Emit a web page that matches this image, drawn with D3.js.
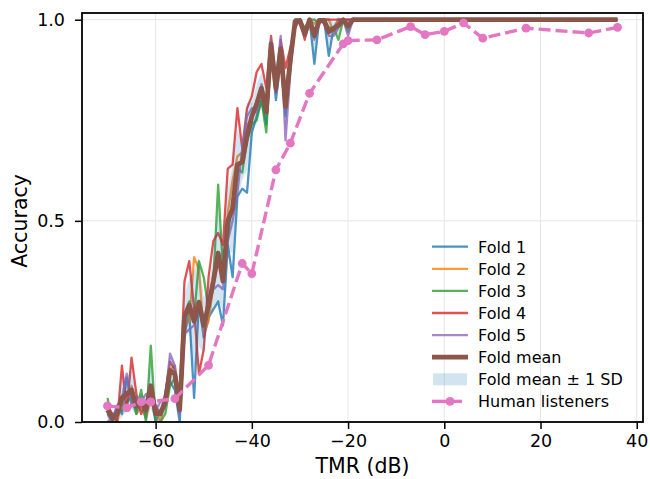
<!DOCTYPE html>
<html>
<head>
<meta charset="utf-8">
<script src="https://cdn.jsdelivr.net/npm/d3@7"></script>
<style>
body { margin: 0; background: #fff; }
svg { display: block; font-family: "DejaVu Sans", sans-serif; }
</style>
</head>
<body>
<div id="chart"></div>
<script>
// TMR grid (dB): 1 dB steps through the slope, sparse on the plateau
const tmr = [-70,-69,-68,-67,-66,-65,-64,-63,-62,-61,
             -60,-59,-58,-57,-56,-55,-54,-53,-52,-51,
             -50,-49,-48,-47,-46,-45,-44,-43,-42,-41,
             -40,-39,-38,-37,-36,-35,-34,-33,-32,-31,
             -30,-29,-28,-27,-26,-25,-24,-23,-22,-21,
             -20,-19,-14,-7,-4,0,4,8,17,30,36];

const fold1 = [0.02,0.00,0.04,0.02,0.11,0.05,0.03,0.06,0.02,0.07,
               0.00,0.03,0.04,0.10,0.08,0.00,0.22,0.27,0.06,0.30,
               0.21,0.26,0.28,0.30,0.24,0.44,0.36,0.56,0.58,0.57,
               0.72,0.76,0.80,0.74,0.93,0.80,0.90,0.76,0.88,1.00,
               1.00,0.96,1.00,0.89,1.00,1.00,0.91,0.98,1.00,1.00,
               1.00,1.00,1,1,1,1,1,1,1,1,1];
const fold2 = [0.03,0.02,0.00,0.05,0.04,0.09,0.02,0.04,0.01,0.06,
               0.03,0.00,0.06,0.13,0.14,0.04,0.24,0.25,0.41,0.38,
               0.22,0.25,0.34,0.40,0.36,0.52,0.60,0.66,0.67,0.74,
               0.75,0.80,0.82,0.78,0.94,0.83,0.92,0.80,0.92,1.00,
               1.00,0.97,1.00,0.99,1.00,1.00,1.00,0.97,1.00,1.00,
               0.99,1.00,1,1,1,1,1,1,1,1,1];
const fold3 = [0.06,0.00,0.02,0.03,0.05,0.06,0.02,0.08,0.00,0.19,
               0.00,0.00,0.02,0.09,0.11,0.03,0.27,0.30,0.26,0.40,
               0.36,0.28,0.35,0.59,0.38,0.46,0.55,0.63,0.62,0.70,
               0.74,0.75,0.80,0.72,0.92,0.85,0.91,0.78,0.90,1.00,
               1.00,0.98,1.00,1.00,0.99,1.00,0.98,0.98,0.95,1.00,
               0.97,1.00,1,1,1,1,1,1,1,1,1];
const fold4 = [0.04,0.02,0.00,0.14,0.03,0.16,0.07,0.02,0.05,0.08,
               0.04,0.02,0.07,0.15,0.13,0.06,0.35,0.40,0.28,0.12,
               0.18,0.36,0.45,0.47,0.44,0.63,0.64,0.78,0.68,0.78,
               0.81,0.87,0.89,0.83,0.96,0.82,0.95,0.88,0.93,0.98,
               1.00,0.95,1.00,0.97,1.00,1.00,1.00,1.00,1.00,1.00,
               1.00,1.00,1,1,1,1,1,1,1,1,1];
const fold5 = [0.00,0.01,0.04,0.06,0.12,0.04,0.06,0.05,0.07,0.05,
               0.03,0.05,0.06,0.17,0.14,0.02,0.22,0.23,0.24,0.29,
               0.23,0.30,0.33,0.34,0.33,0.45,0.50,0.57,0.68,0.76,
               0.78,0.77,0.84,0.78,0.95,0.85,0.96,0.70,0.87,1.00,
               0.99,0.96,1.00,0.95,1.00,0.99,0.96,0.96,0.98,1.00,
               0.96,1.00,1,1,1,1,1,1,1,1,1];

const humanTmr = [-70,-66,-63,-61,-56,-49,-42,-40,-35,-32,-28,-21,-20,-14,-7,-4,0,4,8,17,30,36];
const humanAcc = [0.04,0.035,0.05,0.05,0.058,0.141,0.394,0.369,0.627,0.693,0.817,0.94,0.948,0.95,0.983,0.963,0.971,0.992,0.954,0.979,0.967,0.981];

const xTicks = [-60, -40, -20, 0, 20, 40];
const yTicks = [0, 0.5, 1.0];

const folds = [fold1, fold2, fold3, fold4, fold5];
const foldNames = ['Fold 1', 'Fold 2', 'Fold 3', 'Fold 4', 'Fold 5'];
const foldColors = ['#1f77b4', '#ff7f0e', '#2ca02c', '#d62728', '#9467bd'];

const W = 650, H = 479;
const margin = {left: 82, right: 7, top: 13, bottom: 57};

const x = d3.scaleLinear().domain([-75.3, 41.3]).range([margin.left, W - margin.right]);
const y = d3.scaleLinear().domain([0, 1.0167]).range([H - margin.bottom, margin.top]);

const svg = d3.select('#chart').append('svg').attr('width', W).attr('height', H);

svg.append('defs').append('clipPath').attr('id', 'clip')
    .append('rect')
    .attr('x', margin.left).attr('y', margin.top)
    .attr('width', W - margin.left - margin.right)
    .attr('height', H - margin.top - margin.bottom);

// grid
svg.append('g').selectAll('line.gx')
    .data(xTicks).enter().append('line')
    .attr('x1', d => x(d)).attr('x2', d => x(d))
    .attr('y1', margin.top).attr('y2', H - margin.bottom)
    .attr('stroke', '#e6e6e6').attr('stroke-width', 1);
svg.append('g').selectAll('line.gy')
    .data(yTicks).enter().append('line')
    .attr('x1', margin.left).attr('x2', W - margin.right)
    .attr('y1', d => y(d)).attr('y2', d => y(d))
    .attr('stroke', '#e6e6e6').attr('stroke-width', 1);

const plot = svg.append('g').attr('clip-path', 'url(#clip)');

const line = d3.line().x((d, i) => x(tmr[i])).y(d => y(d));

folds.forEach((f, k) => {
    plot.append('path')
        .attr('d', line(f))
        .attr('fill', 'none')
        .attr('stroke', foldColors[k])
        .attr('stroke-opacity', 0.8)
        .attr('stroke-width', 2.3)
        .attr('stroke-linejoin', 'round');
});

const stats = tmr.map((t, i) => {
    const vals = folds.map(f => f[i]);
    return {t: t, mean: d3.mean(vals), sd: d3.deviation(vals)};
});

const band = d3.area()
    .x(d => x(d.t))
    .y0(d => y(d.mean - d.sd))
    .y1(d => y(d.mean + d.sd));
plot.append('path')
    .attr('d', band(stats))
    .attr('fill', '#1f77b4')
    .attr('fill-opacity', 0.2);

plot.append('path')
    .attr('d', d3.line().x(d => x(d.t)).y(d => y(d.mean))(stats))
    .attr('fill', 'none')
    .attr('stroke', '#8c564b')
    .attr('stroke-width', 4.8)
    .attr('stroke-linejoin', 'round');

// human listeners
plot.append('path')
    .attr('d', d3.line().x((d, i) => x(humanTmr[i])).y(d => y(d))(humanAcc))
    .attr('fill', 'none')
    .attr('stroke', '#e377c2')
    .attr('stroke-width', 3.4)
    .attr('stroke-dasharray', '12,5');
plot.selectAll('circle.h')
    .data(humanAcc).enter().append('circle')
    .attr('cx', (d, i) => x(humanTmr[i]))
    .attr('cy', d => y(d))
    .attr('r', 4.4)
    .attr('fill', '#e377c2');

// axes
const xAxis = svg.append('g')
    .attr('transform', 'translate(0,' + (H - margin.bottom) + ')')
    .call(d3.axisBottom(x).tickValues(xTicks).tickSize(7).tickPadding(6).tickFormat(d3.format('d')));
const yAxis = svg.append('g')
    .attr('transform', 'translate(' + margin.left + ',0)')
    .call(d3.axisLeft(y).tickValues(yTicks).tickSize(7).tickPadding(10).tickFormat(d3.format('.1f')));
[xAxis, yAxis].forEach(a => {
    a.select('.domain').remove();
    a.selectAll('line').attr('stroke', '#000').attr('stroke-width', 1.5);
    a.selectAll('text').attr('font-size', 17.5).attr('fill', '#000')
        .attr('font-family', '"DejaVu Sans", sans-serif');
});

svg.append('rect')
    .attr('x', margin.left).attr('y', margin.top)
    .attr('width', W - margin.left - margin.right)
    .attr('height', H - margin.top - margin.bottom)
    .attr('fill', 'none').attr('stroke', '#000').attr('stroke-width', 1.8);

svg.append('text')
    .attr('x', (margin.left + W - margin.right) / 2).attr('y', 473)
    .attr('text-anchor', 'middle').attr('font-size', 20.5)
    .text('TMR (dB)');
svg.append('text')
    .attr('transform', 'translate(27,' + y(0.5) + ') rotate(-90)')
    .attr('text-anchor', 'middle').attr('font-size', 20.5)
    .text('Accuracy');

// legend
const legendItems = foldNames.map((n, k) => ({name: n, kind: 'fold', color: foldColors[k]}))
    .concat([{name: 'Fold mean', kind: 'mean'},
             {name: 'Fold mean \u00b1 1 SD', kind: 'band'},
             {name: 'Human listeners', kind: 'human'}]);
const lg = svg.append('g').attr('transform', 'translate(432,246.7)');
const rows = lg.selectAll('g.row').data(legendItems).enter().append('g')
    .attr('transform', (d, i) => 'translate(0,' + (i * 22.1) + ')');
rows.each(function (d) {
    const g = d3.select(this);
    if (d.kind === 'fold') {
        g.append('line').attr('x1', 0).attr('x2', 36).attr('y1', 0).attr('y2', 0)
            .attr('stroke', d.color).attr('stroke-opacity', 0.8).attr('stroke-width', 2.3);
    } else if (d.kind === 'mean') {
        g.append('line').attr('x1', 0).attr('x2', 36).attr('y1', 0).attr('y2', 0)
            .attr('stroke', '#8c564b').attr('stroke-width', 4.8);
    } else if (d.kind === 'band') {
        g.append('rect').attr('x', 1).attr('y', -6).attr('width', 34).attr('height', 12)
            .attr('fill', '#1f77b4').attr('fill-opacity', 0.2);
    } else {
        g.append('line').attr('x1', 0).attr('x2', 30).attr('y1', 0).attr('y2', 0)
            .attr('stroke', '#e377c2').attr('stroke-width', 3.4);
        g.append('circle').attr('cx', 18).attr('cy', 0).attr('r', 4.4).attr('fill', '#e377c2');
    }
    g.append('text').attr('x', 46).attr('y', 5.8).attr('font-size', 16).text(d.name);
});
</script>
</body>
</html>
